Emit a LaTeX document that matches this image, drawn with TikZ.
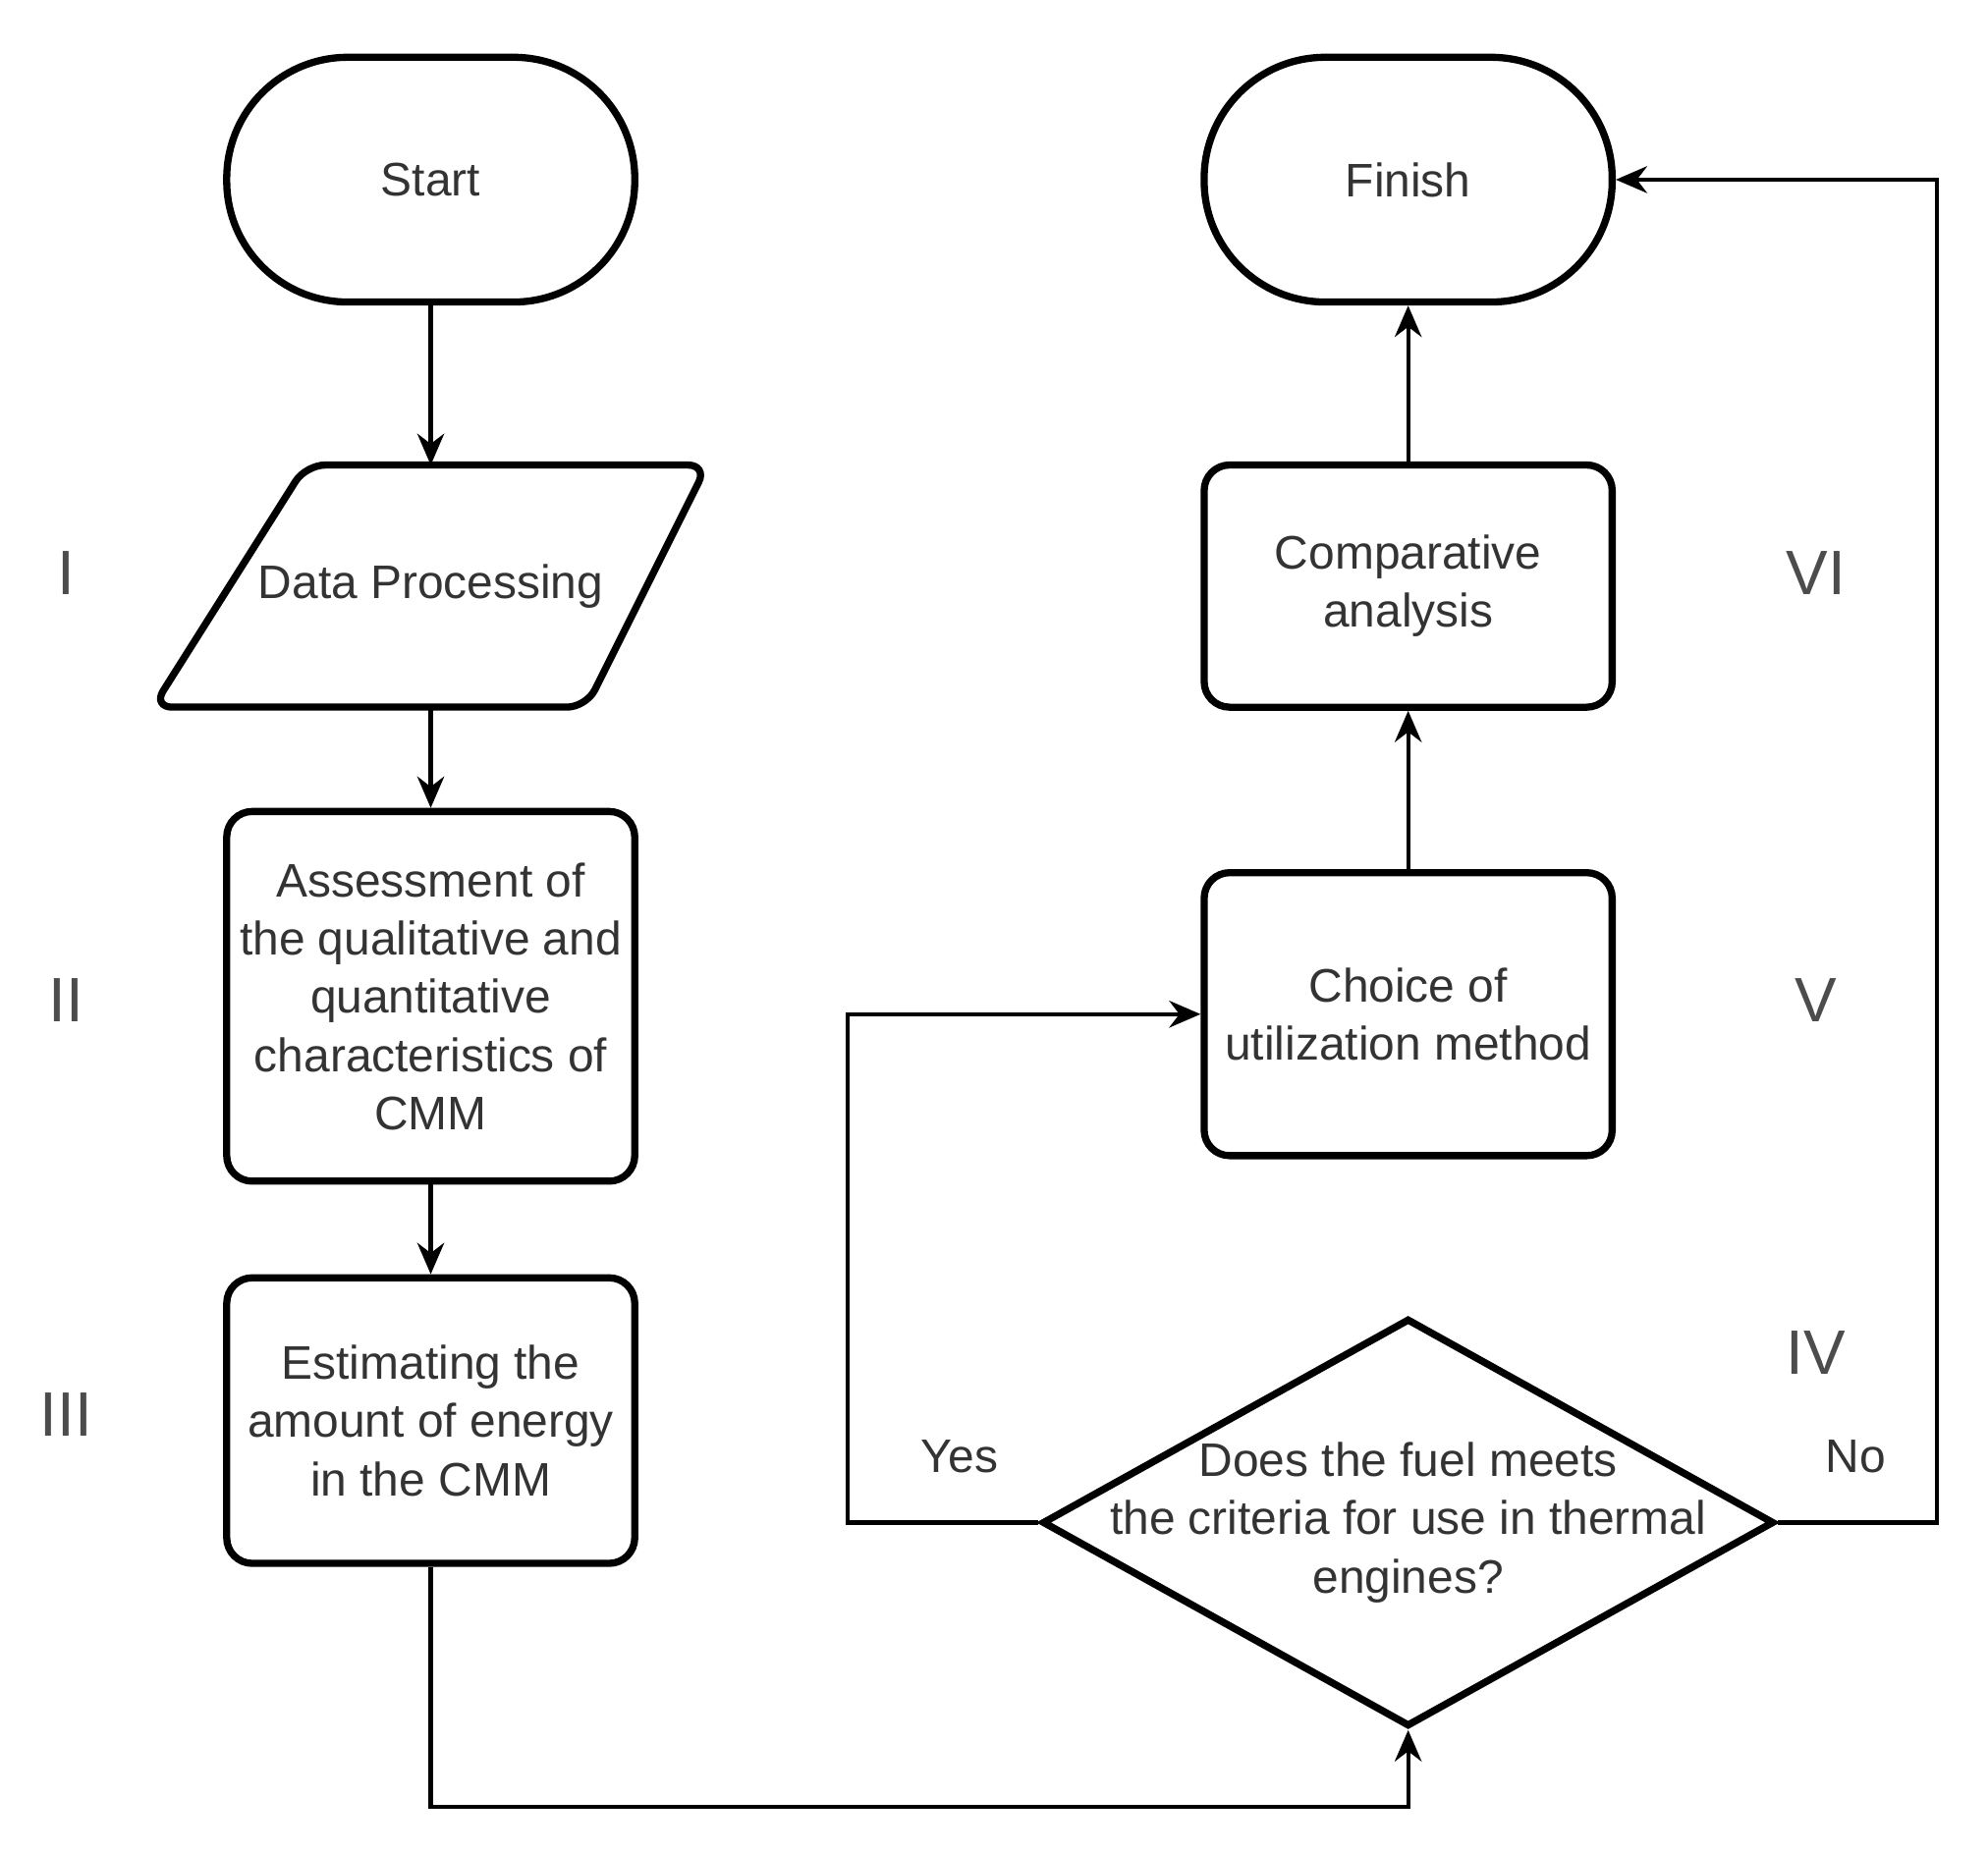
\documentclass[tikz,border=0pt]{standalone}
\usepackage{fontspec}
\setmainfont{Liberation Sans}
\usetikzlibrary{shapes.geometric,arrows.meta}
\begin{document}
\begin{tikzpicture}[x=0.01cm,y=-0.01cm,
  every node/.style={font=\fontsize{10.5pt}{13pt}\selectfont, text=black!80},
  blk/.style={draw=black, text=black!80, line width=1.6pt, rounded corners=0.2cm, minimum width=3.2cm, align=center, inner sep=0pt},
  term/.style={blk, rounded corners=0.95cm, minimum height=1.92cm},
  lbl/.style={font=\fontsize{14pt}{16pt}\selectfont, text=black!70},
  arr/.style={-{Stealth[length=7pt,width=6pt]}, line width=0.9pt}]
\useasboundingbox (0,0) rectangle (1560,1454);
\node[term] (start) at (338,141) {Start};
\node[term] (finish) at (1105,141) {Finish};
\draw[line width=1.6pt, rounded corners=0.15cm] (240,365) -- (555,365) -- (460,555) -- (120,555) -- cycle;
\node (data) at (338,460) {Data Processing};
\coordinate (dtop) at (338,365);
\coordinate (dbot) at (338,555);
\node[blk, minimum height=2.9cm] (assess) at (338,782) {Assessment of\\the qualitative and\\quantitative\\characteristics of\\CMM};
\node[blk, minimum height=2.24cm] (est) at (338,1115) {Estimating the\\amount of energy\\in the CMM};
\node[blk, minimum height=1.9cm] (comp) at (1105,460) {Comparative\\analysis};
\node[blk, minimum height=2.22cm] (choice) at (1105,796) {Choice of\\utilization method};
\node[diamond, draw=black, line width=1.6pt, minimum width=5.74cm, minimum height=3.2cm, inner sep=0pt, aspect=1.8] (dec) at (1105,1195) {};
\node[align=center] at (1105,1195) {Does the fuel meets\\the criteria for use in thermal\\engines?};
\node[lbl] at (52,450) {I};
\node[lbl] at (52,785) {II};
\node[lbl] at (52,1110) {III};
\node[lbl] at (1425,450) {VI};
\node[lbl] at (1425,785) {V};
\node[lbl] at (1425,1062) {IV};
\node at (753,1143) {Yes};
\node at (1456,1143) {No};
\draw[arr] (start) -- (dtop);
\draw[arr] (dbot) -- (assess);
\draw[arr] (assess) -- (est);
\draw[arr] (est.south) -- (338,1418) -- (1105,1418) -- (dec.south);
\draw[arr] (dec.west) -- (665,1195) -- (665,796) -- (choice.west);
\draw[arr] (dec.east) -- (1520,1195) -- (1520,141) -- (finish.east);
\draw[arr] (choice) -- (comp);
\draw[arr] (comp) -- (finish);
\end{tikzpicture}
\end{document}
